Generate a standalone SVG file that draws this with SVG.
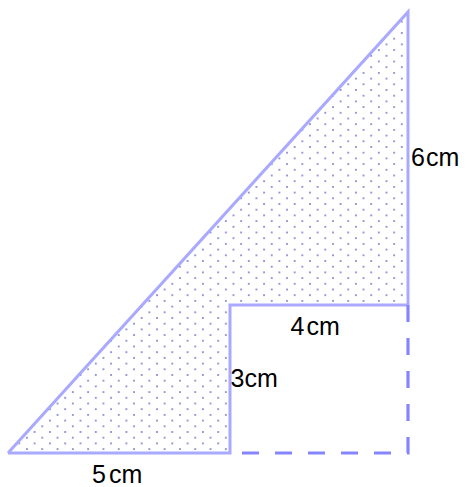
<svg xmlns="http://www.w3.org/2000/svg" width="466" height="487" viewBox="0 0 466 487">
<style>
.solid{fill:none;stroke:#a9a9ff;stroke-width:3;stroke-linecap:butt;stroke-linejoin:miter}
.dash{fill:none;stroke:#8585ff;stroke-width:3.2;stroke-dasharray:17 16}
.lbl{font-family:"Liberation Sans",Arial,sans-serif;font-size:25px;fill:#000}
</style>
<defs>
<pattern id="dots" patternUnits="userSpaceOnUse" x="4" y="10.2" width="15.3" height="11.4">
<circle cx="0" cy="0" r="1" fill="#7a7acc"/>
<circle cx="15.3" cy="0" r="1" fill="#7a7acc"/>
<circle cx="0" cy="11.4" r="1" fill="#7a7acc"/>
<circle cx="15.3" cy="11.4" r="1" fill="#7a7acc"/>
<circle cx="7.65" cy="5.7" r="1" fill="#7a7acc"/>
</pattern>
</defs>
<g id="shaded">
<polygon points="8,453 408,12 408,305 230,305 230,453" fill="url(#dots)" stroke="none"/>
</g>
<g id="connectors">
<path class="solid" d="M8,453 L408,12 L408,305 M408,305 L230,305 L230,453 L8,453"/>
<path class="dash" d="M408,305 L408,453 L230,453"/>
</g>
<g id="labels">
<text class="lbl" x="92" y="483">5<tspan dx="3">cm</tspan></text>
<text class="lbl" x="411" y="166">6<tspan dx="1">cm</tspan></text>
<text class="lbl" x="290.5" y="335">4<tspan dx="2">cm</tspan></text>
<text class="lbl" x="230.5" y="387">3<tspan dx="0">cm</tspan></text>
</g>
</svg>
